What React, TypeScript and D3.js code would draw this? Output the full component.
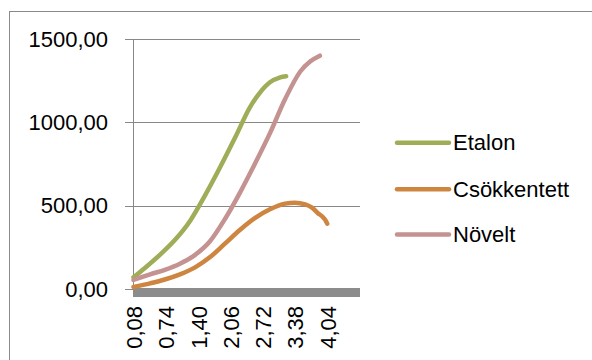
import React from "react";
import * as d3 from "d3";

// Measured curves: x = distance, y = value
const etalonX = [0.08, 0.32, 0.62, 0.93, 1.24, 1.54, 1.85, 2.16, 2.46, 2.67, 2.87, 3.08, 3.2];
const etalonY = [70, 128, 205, 295, 410, 560, 730, 910, 1090, 1180, 1240, 1270, 1277];

const csokX = [0.08, 0.42, 0.72, 1.03, 1.34, 1.64, 1.95, 2.26, 2.56, 2.87, 3.18, 3.38, 3.59, 3.73, 3.85, 3.94, 4.0, 4.04];
const csokY = [12, 34, 57, 88, 130, 190, 272, 355, 425, 478, 512, 518, 508, 488, 455, 435, 415, 392];

const novX = [0.08, 0.42, 0.72, 1.03, 1.34, 1.64, 1.95, 2.26, 2.56, 2.87, 3.18, 3.49, 3.69, 3.89];
const novY = [54, 88, 115, 152, 205, 285, 420, 580, 750, 935, 1140, 1305, 1365, 1400];

const seriesNames = ["Etalon", "Csökkentett", "Növelt"];
const seriesColors = ["#9FAD58", "#CD853F", "#C49290"];

// Category axis: step 0.02 from 0.08, label every 33rd category
const catStart = 0.08;
const catStep = 0.02;
const catCount = 231;
const xTickLabels = ["0,08", "0,74", "1,40", "2,06", "2,72", "3,38", "4,04"];
const xTickValues = [0.08, 0.74, 1.4, 2.06, 2.72, 3.38, 4.04];

const yTicks = [0, 500, 1000, 1500];
const yTickLabels = ["0,00", "500,00", "1000,00", "1500,00"];

const W = 592;
const H = 360;
const plotLeft = 133;
const plotRight = 359;
const plotTop = 39;
const plotBottom = 289;
const font = "'Liberation Sans', Arial, sans-serif";

export default function App() {
  const x = d3
    .scaleLinear()
    .domain([catStart - catStep / 2, catStart + (catCount - 1) * catStep + catStep / 2])
    .range([plotLeft, plotRight]);
  const y = d3.scaleLinear().domain([0, 1500]).range([plotBottom, plotTop]);

  const line = d3
    .line<[number, number]>()
    .x((d) => x(d[0]))
    .y((d) => y(d[1]))
    .curve(d3.curveMonotoneX);

  const series: [number, number][][] = [
    etalonX.map((v, i) => [v, etalonY[i]]),
    csokX.map((v, i) => [v, csokY[i]]),
    novX.map((v, i) => [v, novY[i]]),
  ];

  const legendY = [142.7, 189.3, 234.5];

  return (
    <div style={{ position: "absolute", left: 0, top: 0 }}>
      <svg width={W} height={H} style={{ display: "block", background: "#fff" }}>
        <rect x={9.5} y={11.5} width={700} height={500} fill="#fff" stroke="#8a8a8a" strokeWidth={1} />

        {/* gridlines and value axis */}
        {yTicks.map((t) => (
          <line
            key={"g" + t}
            x1={plotLeft - 8}
            x2={plotRight + 1}
            y1={Math.round(y(t)) + 0.5}
            y2={Math.round(y(t)) + 0.5}
            stroke="#888"
            strokeWidth={1}
          />
        ))}
        <line x1={plotLeft + 0.5} x2={plotLeft + 0.5} y1={plotTop} y2={plotBottom} stroke="#888" strokeWidth={1} />
        {yTicks.map((t, i) => (
          <text
            key={"yl" + t}
            x={108}
            y={y(t) + 7.5}
            textAnchor="end"
            fontFamily={font}
            fontSize={22}
            fill="#000"
          >
            {yTickLabels[i]}
          </text>
        ))}

        {/* category axis with dense tick marks */}
        <rect x={plotLeft} y={plotBottom - 1} width={plotRight + 1 - plotLeft} height={9} fill="#8c8c8c" />
        {xTickValues.map((v, i) => (
          <text
            key={"xl" + i}
            transform={`translate(${x(v) + 1},${306}) rotate(-90)`}
            textAnchor="end"
            dominantBaseline="central"
            fontFamily={font}
            fontSize={22}
            fill="#000"
          >
            {xTickLabels[i]}
          </text>
        ))}

        {/* series */}
        {series.map((pts, i) => (
          <path
            key={seriesNames[i]}
            d={line(pts) || ""}
            fill="none"
            stroke={seriesColors[i]}
            strokeWidth={4.5}
            strokeLinecap="round"
            strokeLinejoin="round"
          />
        ))}

        {/* legend */}
        {seriesNames.map((n, i) => (
          <g key={"lg" + n}>
            <line
              x1={397}
              x2={449}
              y1={legendY[i]}
              y2={legendY[i]}
              stroke={seriesColors[i]}
              strokeWidth={4.5}
              strokeLinecap="round"
            />
            <text x={453} y={legendY[i] + 7.7} fontFamily={font} fontSize={22} fill="#000">
              {n}
            </text>
          </g>
        ))}
      </svg>
    </div>
  );
}
